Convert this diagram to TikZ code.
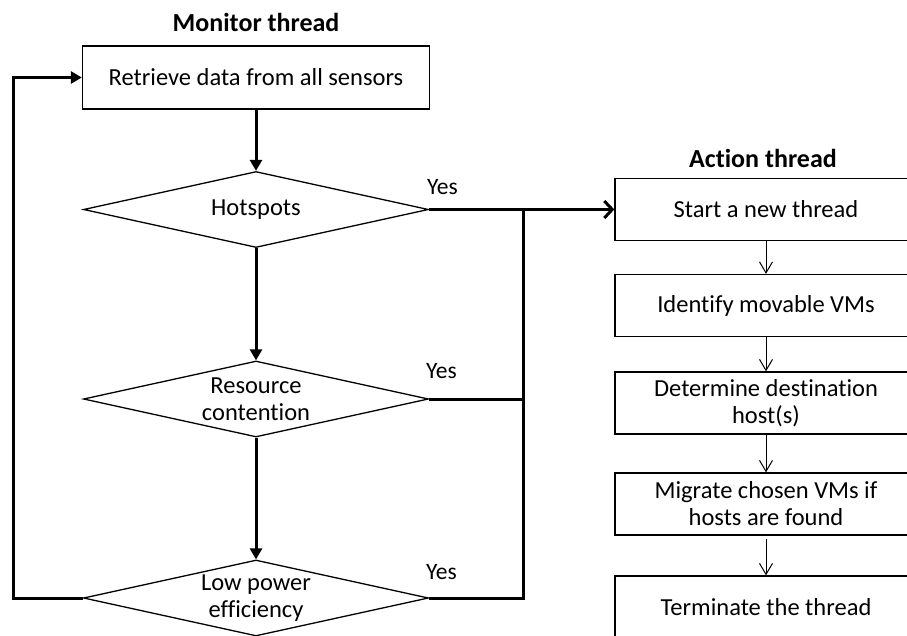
\documentclass[tikz,border=0pt]{standalone}
\usepackage{fontspec}
\setmainfont{Carlito}[Ligatures={NoCommon}]
\usetikzlibrary{shapes.geometric,arrows.meta}
\begin{document}
\begin{tikzpicture}[x=1pt,y=-1pt,
  every node/.style={font=\fontsize{24.5}{27}\selectfont},
  mbox/.style={draw,line width=1.3pt,minimum width=347pt,minimum height=63pt,inner sep=0pt,align=center},
  abox/.style={draw,line width=1.3pt,minimum width=302pt,minimum height=62pt,inner sep=0pt,align=center},
  dec/.style={draw,diamond,line width=1.3pt,minimum width=345pt,minimum height=76pt,inner sep=0pt,aspect=4.5,align=center},
  title/.style={font=\bfseries\fontsize{26}{28}\selectfont,anchor=base},
  yes/.style={anchor=base west,inner sep=0pt,font=\fontsize{23.5}{27}\selectfont},
  flow/.style={line width=3pt,-{Triangle[length=11pt,width=12pt]}},
  bus/.style={line width=3pt},
  bigarrow/.style={line width=3pt,-{Straight Barb[length=8pt,width=17pt]}},
  athin/.style={line width=1pt,-{Straight Barb[length=11pt,width=13pt]}}
]
\path[use as bounding box] (0,0) rectangle (907,635);
\clip (0,0) rectangle (907,635);

% monitor thread
\node[title] (tmon) at (256,31) {Monitor thread};
\node[mbox] (box1) at (256,77.5) {Retrieve data from all sensors};
\node[dec] (hot) at (256,209.5) {Hotspots};
\node[dec] (res) at (256,399) {Resource\\contention};
\node[dec] (low) at (256,598) {Low power\\efficiency};

\node[yes] (y1) at (427,194) {Yes};
\node[yes] (y2) at (426,378) {Yes};
\node[yes] (y3) at (426,579) {Yes};

% action thread
\node[title] (tact) at (763,167) {Action thread};
\node[abox] (start) at (766,209.5) {Start a new thread};
\node[abox] (ident) at (766,305.5) {Identify movable VMs};
\node[abox] (dest) at (766,403) {Determine destination\\host(s)};
\node[abox] (migr) at (766,504) {Migrate chosen VMs if\\hosts are found};
\node[abox] (term) at (766,607) {Terminate the thread};

\coordinate (lx) at (13,0);
\coordinate (bx) at (523,0);

% monitor connectors
\draw[flow] (box1.south) -- (hot.north);
\draw[flow] (hot.south) -- (res.north);
\draw[flow] (res.south) -- (low.north);
\draw[flow] (low.west) -- (low.west -| lx) |- (box1.west);

% yes connectors
\draw[bus] (low.east) -- (low.east -| bx) -- (hot.east -| bx);
\draw[bus] (res.east) -- (res.east -| bx);
\draw[bigarrow] (hot.east) -- (start.west);

% action connectors
\draw[athin] (start.south) -- (ident.north);
\draw[athin] (ident.south) -- (dest.north);
\draw[athin] (dest.south) -- (migr.north);
\draw[athin] ([yshift=-3pt]migr.south) -- (term.north);
\end{tikzpicture}
\end{document}
